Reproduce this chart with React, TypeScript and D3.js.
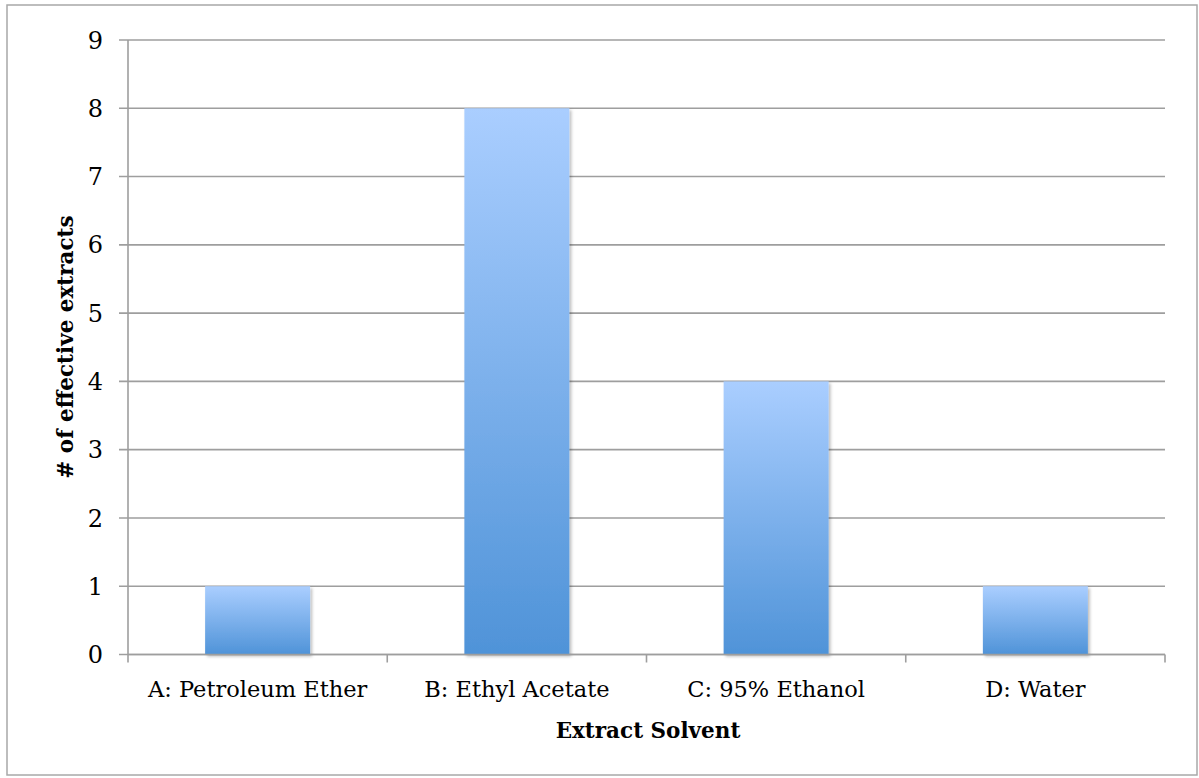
import React from "react";
import * as d3 from "d3";

const categories = ["A: Petroleum Ether", "B: Ethyl Acetate", "C: 95% Ethanol", "D: Water"];
const values = [1, 8, 4, 1];
const yTicks = [0, 1, 2, 3, 4, 5, 6, 7, 8, 9];

const W = 1199;
const H = 778;
const FONT = "'DejaVu Serif', 'Liberation Serif', serif";

export default function App() {
  const left = 128;
  const right = 1165;
  const top = 40;
  const bottom = 654.5;

  const x = d3.scaleBand<string>().domain(categories).range([left, right]).paddingInner(0.595).paddingOuter(0.2975);
  const y = d3.scaleLinear().domain([0, 9]).range([bottom, top]);
  const step = x.step();
  const boundaries = d3.range(categories.length + 1).map((i) => left + i * step);

  return (
    <svg width={W} height={H} style={{ position: "absolute", left: 0, top: 0, background: "#fff" }}>
      <defs>
        <linearGradient id="barGrad" x1="0" y1="0" x2="0" y2="1">
          <stop offset="0%" stopColor="#AACEFF" />
          <stop offset="100%" stopColor="#4F93D8" />
        </linearGradient>
        <filter id="shadow" x="-10%" y="-10%" width="130%" height="130%">
          <feDropShadow dx="2" dy="2" stdDeviation="1.5" floodColor="#000" floodOpacity="0.25" />
        </filter>
      </defs>
      <rect x={7} y={5} width={1190} height={770} fill="#fff" stroke="#A8A8A8" strokeWidth={1.5} />

      {yTicks.map((t) => (
        <g key={t}>
          <line x1={left - 9} x2={right} y1={y(t)} y2={y(t)} stroke="#9E9E9E" strokeWidth={1.6} />
          <text x={103} y={y(t)} dy="0.36em" textAnchor="end" fontFamily={FONT} fontSize={24} fill="#000">
            {t}
          </text>
        </g>
      ))}

      {categories.map((c, i) => (
        <rect
          key={c}
          x={x(c)}
          y={y(values[i])}
          width={x.bandwidth()}
          height={y(0) - y(values[i])}
          fill="url(#barGrad)"
          filter="url(#shadow)"
        />
      ))}

      <line x1={left} x2={left} y1={top} y2={bottom} stroke="#9E9E9E" strokeWidth={1.6} />
      <line x1={left} x2={right} y1={bottom} y2={bottom} stroke="#9E9E9E" strokeWidth={1.6} />
      {boundaries.map((b, i) => (
        <line key={i} x1={b} x2={b} y1={bottom} y2={bottom + 8} stroke="#9E9E9E" strokeWidth={1.6} />
      ))}

      {categories.map((c) => (
        <text
          key={c}
          x={(x(c) as number) + x.bandwidth() / 2}
          y={697}
          textAnchor="middle"
          fontFamily={FONT}
          fontSize={22.5}
          fill="#000"
        >
          {c}
        </text>
      ))}

      <text x={648} y={738} textAnchor="middle" fontFamily={FONT} fontSize={21.5} fontWeight="bold" fill="#000">
        Extract Solvent
      </text>
      <text
        transform={`translate(73, 347) rotate(-90)`}
        textAnchor="middle"
        fontFamily={FONT}
        fontSize={21.5}
        fontWeight="bold"
        fill="#000"
      >
        # of effective extracts
      </text>
    </svg>
  );
}
